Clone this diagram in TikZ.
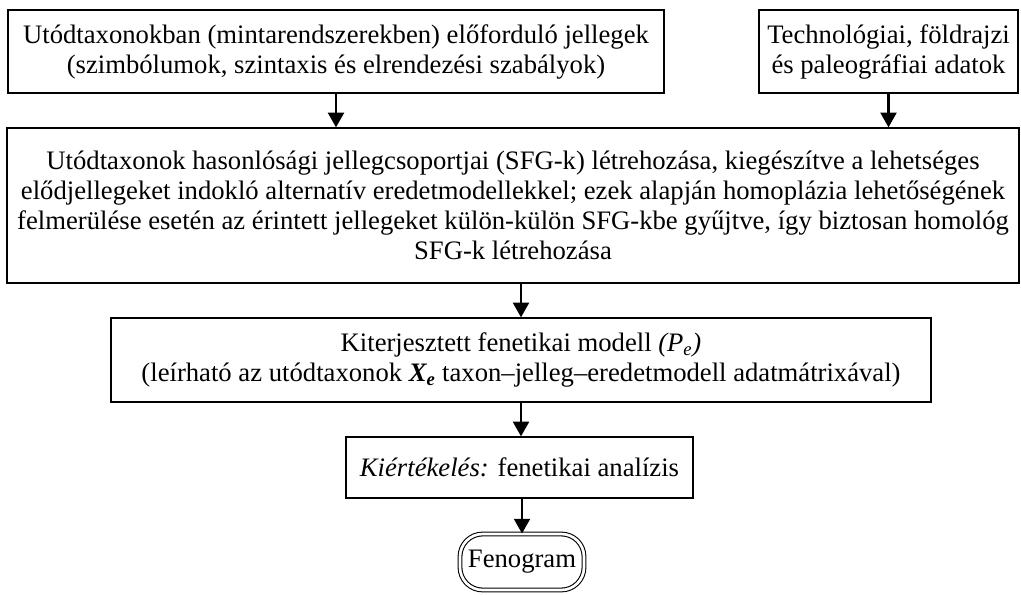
\documentclass[tikz,border=0pt]{standalone}
\usepackage{fontspec}
\setmainfont{Liberation Serif}
\usetikzlibrary{arrows.meta}

\begin{document}
\begin{tikzpicture}[x=0.75pt, y=-0.75pt,
    every node/.style={font=\fontsize{20}{22.5}\selectfont},
    box/.style={draw, line width=1pt, align=center, inner sep=0pt},
    endbox/.style={draw, double, double distance=2pt, line width=0.8pt,
      rounded corners=17pt, align=center, inner sep=0pt},
    arr/.style={-{Triangle[width=12pt, length=11pt]}, line width=1.6pt}]
    \useasboundingbox (0,0) rectangle (1021,595);

    \node[box, minimum width=492pt, minimum height=62.25pt] (usrc) at (336, 51.5)
      {Utódtaxonokban (mintarendszerekben) előforduló jellegek\\
       (szimbólumok, szintaxis és elrendezési szabályok)};
    \node[box, minimum width=194.25pt, minimum height=62.25pt] (tech) at (888.5, 51.5)
      {Technológiai, földrajzi\\ és paleográfiai adatok};

    \node[box, minimum width=759pt, minimum height=116.25pt] (synth) at (513, 205.5)
      {Utódtaxonok hasonlósági jellegcsoportjai (SFG-k) létrehozása, kiegészítve a lehetséges\\
       elődjellegeket indokló alternatív eredetmodellekkel; ezek alapján homoplázia lehetőségének\\
       felmerülése esetén az érintett jellegeket külön-külön SFG-kbe gyűjtve, így biztosan homológ\\
       SFG-k létrehozása};

    \node[box, minimum width=615pt, minimum height=63pt] (model) at (521, 360)
      {Kiterjesztett fenetikai modell \textit{(P\textsubscript{e})}\\
       (leírható az utódtaxonok \textbf{\textit{X\textsubscript{e}}} taxon--jelleg--eredetmodell adatmátrixával)};

    \node[box, minimum width=260.25pt, minimum height=45.75pt] (eval) at (519.5, 467.5)
      {\textit{Kiértékelés:} fenetikai analízis};

    \node[endbox, minimum width=93pt, minimum height=42pt] (feno) at (522, 562) {Fenogram};

    \draw[arr] (usrc.south) -- (usrc.south |- synth.north);
    \draw[arr] (tech.south) -- (tech.south |- synth.north);
    \draw[arr] (model.north |- synth.south) -- (model.north);
    \draw[arr] (model.south) -- (model.south |- eval.north);
    \draw[arr] (feno.north |- eval.south) -- (feno.north);
\end{tikzpicture}
\end{document}
